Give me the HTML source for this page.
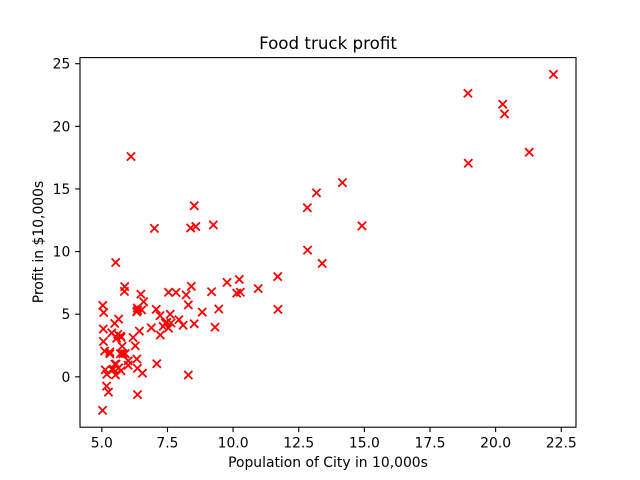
<!DOCTYPE html>
<html><head><meta charset="utf-8"><style>
html,body{margin:0;padding:0;background:#fff;}
svg{display:block;font-family:"DejaVu Sans","Liberation Sans",sans-serif;}
</style></head><body>
<svg id="chart" width="640" height="480" viewBox="0 0 640 480">
<rect x="0" y="0" width="640" height="480" fill="#fff"/>
<g id="marks"></g>
<g id="axes"></g>
<text x="328" y="49" text-anchor="middle" font-size="16.7" fill="#000">Food truck profit</text>
<text x="328" y="467" text-anchor="middle" font-size="13.9" fill="#000">Population of City in 10,000s</text>
<text x="0" y="0" transform="translate(43,242) rotate(-90)" text-anchor="middle" font-size="13.9" fill="#000">Profit in $10,000s</text>
</svg>
<script>
const population=[6.1101,5.5277,8.5186,7.0032,5.8598,8.3829,7.4764,8.5781,6.4862,5.0546,5.7107,14.164,5.734,8.4084,5.6407,5.3794,6.3654,5.1301,6.4296,7.0708,6.1891,20.27,5.4901,6.3261,5.5649,18.945,12.828,10.957,13.176,22.203,5.2524,6.5894,9.2482,5.8918,8.2111,7.9334,8.0959,5.6063,12.836,6.3534,5.4069,6.8825,11.708,5.7737,7.8247,7.0931,5.0702,5.8014,11.7,5.5416,7.5402,5.3077,7.4239,7.6031,6.3328,6.3589,6.2742,5.6397,9.3102,9.4536,8.8254,5.1793,21.279,14.908,18.959,7.2182,8.2951,10.236,5.4994,20.341,10.136,7.3345,6.0062,7.2259,5.0269,6.5479,7.5386,5.0365,10.274,5.1077,5.7292,5.1884,6.3557,9.7687,6.5159,8.5172,9.1802,6.002,5.5204,5.0594,5.7077,7.6366,5.8707,5.3054,8.2934,13.394,5.4369];
const profit=[17.592,9.1302,13.662,11.854,6.8233,11.886,4.3483,12,6.5987,3.8166,3.2522,15.505,3.1551,7.2258,0.71618,3.5129,5.3048,0.56077,3.6518,5.3893,3.1386,21.767,4.263,5.1875,3.0825,22.638,13.501,7.0467,14.692,24.147,-1.22,5.9966,12.134,1.8495,6.5426,4.5623,4.1164,3.3928,10.117,5.4974,0.55657,3.9115,5.3854,2.4406,6.7318,1.0463,5.1337,1.844,8.0043,1.0179,6.7504,1.8396,4.2885,4.9981,1.4233,-1.4211,2.4756,4.6042,3.9624,5.4141,5.1694,-0.74279,17.929,12.054,17.054,4.8852,5.7442,7.7754,1.0173,20.992,6.6799,4.0259,1.2784,3.3411,-2.6807,0.29678,3.8845,5.7014,6.7526,2.0576,0.47953,0.20421,0.67861,7.5435,5.3436,4.2415,6.7981,0.92695,0.152,2.8214,1.8451,4.2959,7.2029,1.9869,0.14454,9.0551,0.61705];
const xTicks=[5.0,7.5,10.0,12.5,15.0,17.5,20.0,22.5];
const xTickLabels=["5.0","7.5","10.0","12.5","15.0","17.5","20.0","22.5"];
const yTicks=[0,5,10,15,20,25];
const yTickLabels=["0","5","10","15","20","25"];

const NS="http://www.w3.org/2000/svg";
const L=80,R=576,T=57.6,B=427.2;
const xmin=Math.min(...population),xmax=Math.max(...population);
const ymin=Math.min(...profit),ymax=Math.max(...profit);
const x0=xmin-0.05*(xmax-xmin),x1=xmax+0.05*(xmax-xmin);
const y0=ymin-0.05*(ymax-ymin),y1=ymax+0.05*(ymax-ymin);
function sx(v){return L+(v-x0)/(x1-x0)*(R-L);}
function sy(v){return B-(v-y0)/(y1-y0)*(B-T);}
function mk(tag,attrs,parent){const e=document.createElementNS(NS,tag);for(const k in attrs)e.setAttribute(k,attrs[k]);parent.appendChild(e);return e;}

const marks=document.getElementById('marks');
const s=4.1;
for(let i=0;i<population.length;i++){
  const cx=sx(population[i]),cy=sy(profit[i]);
  const p=mk('path',{d:`M${cx-s},${cy-s}L${cx+s},${cy+s}M${cx-s},${cy+s}L${cx+s},${cy-s}`,stroke:'#ff0000','stroke-width':1.8,fill:'none'},marks);
  
  
}
const axes=document.getElementById('axes');
const frame=mk('rect',{x:L,y:T,width:R-L,height:B-T,fill:'none',stroke:'#000','stroke-width':1.1},axes);


for(let i=0;i<xTicks.length;i++){
  const x=sx(xTicks[i]);
  const t=mk('line',{x1:x,x2:x,y1:B,y2:B+4.9,stroke:'#000','stroke-width':1.1},axes);
  
  
  const lb=mk('text',{x:x,y:B+20.5,'text-anchor':'middle','font-size':13.9},axes);
  lb.textContent=xTickLabels[i];
  
  
}
for(let i=0;i<yTicks.length;i++){
  const y=sy(yTicks[i]);
  const t=mk('line',{x1:L-4.9,x2:L,y1:y,y2:y,stroke:'#000','stroke-width':1.1},axes);
  
  
  const lb=mk('text',{x:L-9.7,y:y+5,'text-anchor':'end','font-size':13.9},axes);
  lb.textContent=yTickLabels[i];
  
  
}
</script>
</body></html>
